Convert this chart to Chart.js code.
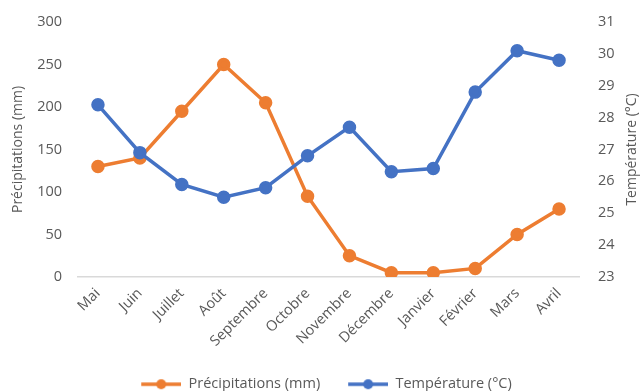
<!DOCTYPE html>
<html>
<head>
<meta charset="utf-8">
<script src="https://cdn.jsdelivr.net/npm/chart.js@4/dist/chart.umd.min.js"></script>
<style>
html,body{margin:0;padding:0;background:#fff;}
#wrap{width:642px;height:391px;position:relative;}
</style>
</head>
<body>
<div id="wrap"><canvas id="c"></canvas></div>
<script>
const months = ["Mai","Juin","Juillet","Août","Septembre","Octobre","Novembre","Décembre","Janvier","Février","Mars","Avril"];
const precipitations = [130,140,195,250,205,95,25,5,5,10,50,80];
const temperature = [28.4,26.9,25.9,25.5,25.8,26.8,27.7,26.3,26.4,28.8,30.1,29.8];
const precipLabel = "Précipitations (mm)";
const tempLabel = "Température (°C)";

const grey = "#595959";
const FAM = "'Open Sans', sans-serif";
const tickFont = {family: FAM, size: 14.5};
const titleFont = {family: FAM, size: 14};
const legendFont = {family: FAM, size: 14.5};

function legendMarker(color) {
  const c = document.createElement('canvas');
  c.width = 49; c.height = 12;
  const g = c.getContext('2d');
  g.strokeStyle = color; g.lineWidth = 3.5;
  g.beginPath(); g.moveTo(9, 6); g.lineTo(49, 6); g.stroke();
  g.fillStyle = color;
  g.beginPath(); g.arc(29, 6, 5, 0, Math.PI * 2); g.fill();
  return c;
}

const rightTitlePlugin = {
  id: 'rightTitle',
  afterDraw(chart) {
    const s = chart.scales.y1;
    const ctx = chart.ctx;
    ctx.save();
    ctx.fillStyle = grey;
    ctx.font = titleFont.size + "px " + FAM;
    ctx.textAlign = 'center';
    ctx.textBaseline = 'middle';
    ctx.translate(s.right - 10, (s.top + s.bottom) / 2);
    ctx.rotate(-Math.PI / 2);
    ctx.fillText(tempLabel, 0, 0);
    ctx.restore();
  }
};

function fixScale(w) {
  return (scale) => { scale.width = w; scale.paddingTop = 0; scale.paddingBottom = 0; };
}

new Chart(document.getElementById('c'), {
  type: 'line',
  data: {
    labels: months,
    datasets: [
      {label: precipLabel, data: precipitations, yAxisID: 'y', borderColor: '#ED7D31', backgroundColor: '#ED7D31',
       borderWidth: 3.5, pointRadius: 5, pointHoverRadius: 5, pointBackgroundColor: '#ED7D31', pointBorderColor: '#ED7D31', tension: 0, order: 1},
      {label: tempLabel, data: temperature, yAxisID: 'y1', borderColor: '#4472C4', backgroundColor: '#4472C4',
       borderWidth: 3.5, pointRadius: 5, pointHoverRadius: 5, pointBackgroundColor: '#4472C4', pointBorderColor: '#4472C4', tension: 0, order: 0}
    ]
  },
  plugins: [rightTitlePlugin],
  options: {
    responsive: true,
    maintainAspectRatio: false,
    animation: false,
    layout: {autoPadding: false, padding: {left: 2, right: 0, top: 22, bottom: 0}},
    plugins: {
      tooltip: {enabled: false},
      legend: {
        position: 'bottom',
        maxHeight: 33,
        labels: {
          color: grey, font: legendFont, usePointStyle: true, pointStyleWidth: 49, boxHeight: 12, padding: 19,
          generateLabels: (chart) => chart.data.datasets.map((ds, i) => ({
            text: ds.label, fillStyle: ds.borderColor, strokeStyle: ds.borderColor, lineWidth: 0,
            pointStyle: legendMarker(ds.borderColor), fontColor: grey, datasetIndex: i, hidden: false
          }))
        }
      }
    },
    scales: {
      x: {
        offset: true,
        grid: {display: false, drawTicks: false},
        border: {display: false},
        ticks: {color: grey, font: tickFont, maxRotation: 45, minRotation: 45, padding: 8}
      },
      y: {
        position: 'left', min: 0, max: 300,
        afterFit: fixScale(75),
        grid: {display: true, drawTicks: false, color: (ctx) => ctx.tick.value === 0 ? '#D9D9D9' : 'rgba(0,0,0,0)', lineWidth: 1.5},
        border: {display: false},
        ticks: {stepSize: 50, color: grey, font: tickFont, padding: 15},
        title: {display: true, text: precipLabel, color: grey, font: titleFont, padding: {top: 8, bottom: 9}}
      },
      y1: {
        position: 'right', min: 23, max: 31,
        afterFit: fixScale(62),
        grid: {display: false, drawTicks: false},
        border: {display: false},
        ticks: {stepSize: 1, color: grey, font: tickFont, padding: 18},
        title: {display: false}
      }
    }
  }
});
</script>
</body>
</html>
